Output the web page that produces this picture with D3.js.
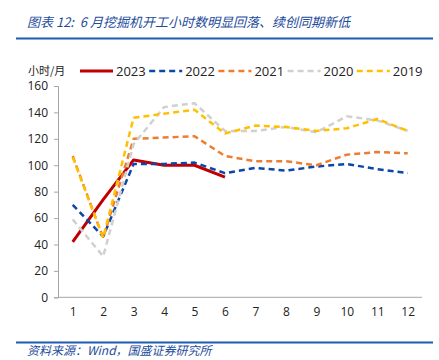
<!DOCTYPE html>
<html><head><meta charset="utf-8">
<script src="https://cdn.jsdelivr.net/npm/d3@7"></script>
<style>body{margin:0;background:#fff}svg{display:block}text{white-space:pre}</style>
</head><body>
<svg id="c" width="439" height="360"></svg>
<script>
const months = ["1","2","3","4","5","6","7","8","9","10","11","12"];
const yTicks = [0,20,40,60,80,100,120,140,160];
const s2023 = [42,74,104,100,100,91];
const s2022 = [70,46,101,101,102,94,98,96,99,101,97,94];
const s2021 = [107,45,120,121,122,107,103,103,100,108,110,109];
const s2020 = [59,31,116,144,147,126,126,129,125,137,134,126];
const s2019 = [106,45,136,139,142,124,130,129,126,128,135,126];
const seriesNames = ["2023","2022","2021","2020","2019"];
const seriesData = [s2023,s2022,s2021,s2020,s2019];
const colors = ["#C00000","#0B47A8","#ED7D31","#D0D0D0","#FFC000"];

const svg = d3.select("#c");
const cjk = "'Noto Sans CJK SC','Noto Sans',sans-serif";
const lat = "'Open Sans','Noto Sans',sans-serif";

// header
svg.append("text").attr("x",27).attr("y",27).attr("font-family",cjk).attr("font-style","italic")
  .attr("font-size",13).attr("fill","#1E4C9C").text("图表 12:  6 月挖掘机开工小时数明显回落、续创同期新低");
svg.append("line").attr("x1",16).attr("x2",433).attr("y1",38.5).attr("y2",38.5).attr("stroke","#1E5AB4").attr("stroke-width",2);
svg.append("line").attr("x1",16).attr("x2",433).attr("y1",342.5).attr("y2",342.5).attr("stroke","#1E5AB4").attr("stroke-width",2);
svg.append("text").attr("x",27).attr("y",355).attr("font-family",cjk).attr("font-style","italic")
  .attr("font-size",12).attr("fill","#1E4C9C").text("资料来源：Wind，国盛证券研究所");

const x = d3.scalePoint().domain(months).range([72.7,407.7]);
const y = d3.scaleLinear().domain([0,160]).range([297.3,86]);

// axes
const yAxis = svg.append("g").attr("transform","translate(58,0)")
  .call(d3.axisLeft(y).tickValues(yTicks).tickSize(4).tickPadding(6));
yAxis.select(".domain").attr("stroke","#A6A6A6");
yAxis.selectAll(".tick line").attr("stroke","#A6A6A6");
yAxis.selectAll("text").attr("font-family",lat).attr("font-size",12).attr("fill","#222");

const xAxis = svg.append("g").attr("transform","translate(0,297.3)")
  .call(d3.axisBottom(x).tickSize(0).tickPadding(10));
xAxis.select(".domain").attr("d","M58,0H422").attr("stroke","#A6A6A6");
xAxis.selectAll("text").attr("font-family",lat).attr("font-size",12).attr("fill","#222");

const line = d3.line().x((d,i)=>x(months[i])).y(d=>y(d));
seriesData.forEach((s,k)=>{
  svg.append("path").datum(s).attr("d",line).attr("fill","none")
    .attr("stroke",colors[k]).attr("stroke-width",k===0?3:2.5)
    .attr("stroke-dasharray",k===0?null:"6,4").attr("stroke-linejoin","round");
});

// legend
svg.append("text").attr("x",28).attr("y",75).attr("font-family",cjk).attr("font-size",11).attr("fill","#222").text("小时/月");
seriesNames.forEach((n,k)=>{
  const lx = 80 + k*69.2;
  svg.append("line").attr("x1",lx).attr("x2",lx+33).attr("y1",71).attr("y2",71)
    .attr("stroke",colors[k]).attr("stroke-width",k===0?3:2.5).attr("stroke-dasharray",k===0?null:"6,4");
  svg.append("text").attr("x",lx+36).attr("y",76).attr("font-family",lat).attr("font-size",13).attr("fill","#222").text(n);
});
</script>
</body></html>
